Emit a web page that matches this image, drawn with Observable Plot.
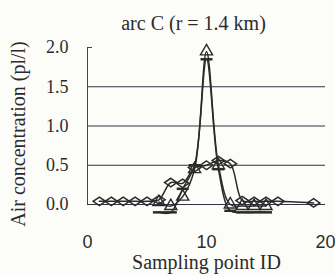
<!DOCTYPE html>
<html>
<head>
<meta charset="utf-8">
<script src="https://cdn.jsdelivr.net/npm/d3@7"></script>
<script src="https://cdn.jsdelivr.net/npm/@observablehq/plot@0.6"></script>
<style>
  html, body { margin: 0; padding: 0; background: #fcfcf9; }
  #chart { width: 335px; height: 276px; }
</style>
</head>
<body>
<div id="chart"></div>
<script>
// ---- data ----
const titleText = "arc C (r = 1.4 km)";
const xTitle = "Sampling point ID";
const yTitle = "Air concentration (pl/l)";
const xTicks = [0, 10, 20];
const yTicks = [0, 0.5, 1.0, 1.5, 2.0];
const gridValues = [0, 0.5, 1.0, 1.5];
const topTick = [2.0];

const diamondX = [1, 2, 3, 4, 5, 6, 7, 8, 9, 10, 11, 12, 13, 14, 15, 16, 19];
const diamondY = [0.04, 0.04, 0.04, 0.04, 0.04, 0.06, 0.28, 0.27, 0.47, 0.5, 0.56, 0.52, 0.05, 0.04, 0.04, 0.04, 0.02];

const triangleX = [6, 7, 8, 9, 10, 11, 12, 13, 14, 15];
const triangleY = [0.03, -0.02, 0.1, 0.45, 1.95, 0.5, 0.0, -0.02, -0.02, -0.02];

const dashX = [6, 7, 8, 9, 10, 11, 12, 13, 14, 15];
const dashY = [-0.1, -0.1, 0.2, 0.5, 1.85, 0.45, -0.08, -0.1, -0.1, -0.1];

// ---- build table ----
const rows = [];
diamondX.forEach((x, i) => rows.push({series: "diamond", x, y: diamondY[i]}));
triangleX.forEach((x, i) => rows.push({series: "triangle", x, y: triangleY[i]}));
dashX.forEach((x, i) => rows.push({series: "dash", x, y: dashY[i]}));

const diamondSymbol = {
  draw(ctx, size) {
    const r = Math.sqrt(size / Math.PI);
    const w = r * 1.25, h = r * 0.85;
    ctx.moveTo(0, -h); ctx.lineTo(w, 0); ctx.lineTo(0, h); ctx.lineTo(-w, 0); ctx.closePath();
  }
};
const dashSymbol = {
  draw(ctx, size) {
    const r = Math.sqrt(size / Math.PI);
    ctx.moveTo(-r * 1.2, 0); ctx.lineTo(r * 1.2, 0);
  }
};

const ink = "#2b2b2b";
const serif = "'Liberation Serif', 'Times New Roman', serif";
const sans = "'Liberation Sans', Arial, sans-serif";

const chart = Plot.plot({
  width: 335,
  height: 276,
  marginLeft: 87,
  marginRight: 10,
  marginTop: 47,
  marginBottom: 72,
  x: {domain: [0, 20], label: null},
  y: {domain: [0, 2], label: null},
  style: {background: "#fcfcf9", color: ink, overflow: "visible"},
  marks: [
    Plot.ruleY(gridValues, {stroke: "#333344", strokeWidth: 1}),
    Plot.ruleX([0], {stroke: "#444", strokeWidth: 1}),
    Plot.axisY(topTick, {tickSize: -5, tickFormat: () => "", stroke: "#444", label: null}),
    Plot.axisY(yTicks, {tickSize: 0, tickPadding: 19, fontSize: 18, fontFamily: serif, fill: ink, tickFormat: d => d.toFixed(1), label: null}),
    Plot.axisX(xTicks, {tickSize: 0, tickPadding: 31, fontSize: 18, fontFamily: sans, fill: ink, label: null}),
    Plot.line(rows, {x: "x", y: "y", z: "series", curve: "catmull-rom", stroke: ink, strokeWidth: 1.5}),
    Plot.dot(rows.filter(d => d.series === "diamond"), {x: "x", y: "y", symbol: diamondSymbol, r: 5, stroke: ink, strokeWidth: 1.5, fill: "none"}),
    Plot.dot(rows.filter(d => d.series === "triangle"), {x: "x", y: "y", symbol: "triangle", r: 4.5, stroke: ink, strokeWidth: 1.4, fill: "none"}),
    Plot.dot(rows.filter(d => d.series === "dash"), {x: "x", y: "y", symbol: dashSymbol, r: 5, stroke: ink, strokeWidth: 2.5}),
    Plot.text([titleText], {frameAnchor: "top", dx: -13, dy: -32, fontSize: 20, fontFamily: serif, fill: ink}),
    Plot.text([xTitle], {frameAnchor: "bottom", dy: 64, fontSize: 20, fontFamily: serif, fill: ink}),
    Plot.text([yTitle], {frameAnchor: "left", textAnchor: "middle", rotate: -90, dx: -69, dy: 8, fontSize: 20, fontFamily: serif, fill: ink})
  ]
});
document.getElementById("chart").appendChild(chart);
</script>
</body>
</html>
